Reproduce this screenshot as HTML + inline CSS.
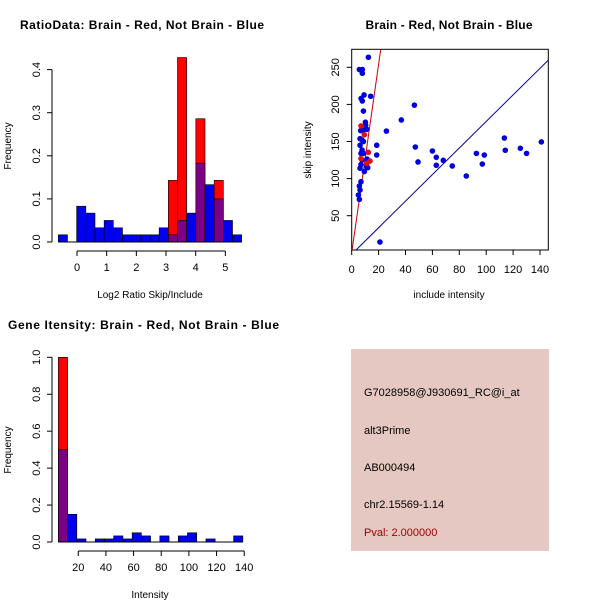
<!DOCTYPE html>
<html><head><meta charset="utf-8"><style>
body{margin:0;background:#fff}
svg{display:block;font-family:"Liberation Sans",sans-serif}
</style></head><body>
<svg id="s" width="600" height="600" xmlns="http://www.w3.org/2000/svg">
<rect width="600" height="600" fill="#fff"/>
<g>
<rect x="351" y="349" width="198" height="202" fill="#e6c8c2"/>
<text x="364" y="396" font-size="11" fill="#000">G7028958@J930691_RC@i_at</text>
<text x="364" y="434" font-size="11" fill="#000">alt3Prime</text>
<text x="364" y="471" font-size="11" fill="#000">AB000494</text>
<text x="364" y="508" font-size="11" fill="#000">chr2.15569-1.14</text>
<text x="364" y="536" font-size="11" fill="#a00000">Pval: 2.000000</text>
</g>
</svg>
<script>
// ---- chart 1 data: ratio histogram ----
const ratioBinStart = -0.63, ratioBinWidth = 0.309;
const ratioBlue = [0.0167,0,0.083,0.067,0.033,0.05,0.033,0.0167,0.0167,0.0167,0.0167,0.033,0.0167,0.05,0.067,0.183,0.133,0.1,0.05,0.0167];
const ratioRed  = [0,0,0,0,0,0,0,0,0,0,0,0,0.143,0.428,0,0.286,0,0.143,0,0];
const ratioXTicks = [0,1,2,3,4,5];
const ratioYTicks = ["0.0","0.1","0.2","0.3","0.4"];
// ---- chart 2 data: scatter ----
const blueX = [12.4,5.7,7.9,7.9,9.2,14.1,7,7.9,8.7,10.2,10.4,6.7,8.7,11.2,6.2,7.7,8.7,6.2,7.7,6.9,8.7,18.6,18.6,25.8,36.9,46.6,47.3,49.3,60,62.9,62.9,68.1,74.8,85.2,92.7,98.6,97.1,113.5,114.2,125.4,130,141,21,6.9,6.2,9.4,11.2,5.7,6.2,6.9,5,5.7,7.7,11.9,11.4];
const blueY = [263.5,247,247,242,212.7,211,208,204.6,191,176,172,164.6,165.5,166.4,153.8,152,150,145,138.5,134,134,145,131.8,164,179,199,142.6,122.4,137.2,128.7,118,124.6,117,103.5,134,131.7,119.6,154.7,138.2,140.8,134,149.4,14.5,119,114,109.5,116,90,84.6,95.8,77.9,72,125,114.7,126.4];
const redX = [6.9,9.4,12.4,13.6,11.2,6.9];
const redY = [171,159,135.4,123.7,120.7,127];
const redSlope = 12.7, blueSlope = 1.79, blueIntercept = -2;
const scX = [0,20,40,60,80,100,120,140];
const scY = [50,100,150,200,250];
// ---- chart 3 data: intensity histogram ----
const intBinStart = 5.6, intBinWidth = 6.67;
const intBlue = [0.5,0.15,0.0167,0,0.0167,0.0167,0.033,0.0167,0.05,0.033,0,0.033,0,0.033,0.05,0,0.0167,0,0,0.033];
const intRed  = [1.0,0,0,0,0,0,0,0,0,0,0,0,0,0,0,0,0,0,0,0];
const intXTicks = [20,40,60,80,100,120,140];
const intYTicks = ["0.0","0.2","0.4","0.6","0.8","1.0"];

const S = document.getElementById('s');
const NS = 'http://www.w3.org/2000/svg';
function mk(tag, attrs, parent){const e=document.createElementNS(NS,tag);for(const k in attrs)e.setAttribute(k,attrs[k]);(parent||S).appendChild(e);return e;}
function txt(x,y,s,size,parent,extra){const t=mk('text',Object.assign({x:x,y:y,'font-size':size,'text-anchor':'middle',fill:'#000'},extra||{}),parent);t.textContent=s;return t;}

function hist(g, binStart, binW, blue, red, xs, ys){
  blue.forEach((b,i)=>{
    const x0=xs(binStart+i*binW), x1=xs(binStart+(i+1)*binW), r=red[i];
    if(r>0){const e=mk('rect',{x:x0,y:ys(r),width:x1-x0,height:ys(0)-ys(r),fill:'#ff0000',stroke:'#000','stroke-width':0.6},g);
       }
    if(b>0){const col=r>0?'#7b0086':'#0000ee';
      const e=mk('rect',{x:x0,y:ys(b),width:x1-x0,height:ys(0)-ys(b),fill:col,stroke:'#000','stroke-width':0.6},g);
       }
  });
}
function yAxis(g, x, ticks, ys, y0, y1){
  mk('line',{x1:x,y1:y0,x2:x,y2:y1,stroke:'#000'},g);
  ticks.forEach(t=>{const y=ys(parseFloat(t));mk('line',{x1:x-5,y1:y,x2:x,y2:y,stroke:'#000'},g);
    const l=txt(x-12,y,t,11,g,{transform:`rotate(-90 ${x-12} ${y})`});
     });
}
function xAxis(g, y, ticks, xs, x0, x1){
  mk('line',{x1:x0,y1:y,x2:x1,y2:y,stroke:'#000'},g);
  ticks.forEach(t=>{const x=xs(t);mk('line',{x1:x,y1:y,x2:x,y2:y+5,stroke:'#000'},g);
    const l=txt(x,y+20,String(t),11,g);
     });
}

// chart 1
{
  const g=mk('g',{});
   
  const xs=v=>77+v*29.67, ys=v=>242-v*431;
  hist(g,ratioBinStart,ratioBinWidth,ratioBlue,ratioRed,xs,ys);
  mk('line',{x1:xs(ratioBinStart),y1:242,x2:xs(ratioBinStart+ratioBlue.length*ratioBinWidth),y2:242,stroke:'#000'},g);
  yAxis(g,52,ratioYTicks,ys,ys(0),ys(0.4));
  xAxis(g,251,ratioXTicks,xs,xs(0),xs(5));
  const t=txt(142,29,'RatioData: Brain - Red, Not Brain - Blue',12,g,{'font-weight':'bold',textLength:244});
   
  const xl=txt(150,298,'Log2 Ratio Skip/Include',10,g);  
  const yl=txt(11,146,'Frequency',10,g,{transform:'rotate(-90 11 146)'});  
}
// chart 2
{
  const g=mk('g',{});
   
  const xs=v=>351.7+v*1.345, ys=v=>252.8-v*0.742;
  const cp=mk('clipPath',{id:'c2'},g); mk('rect',{x:352,y:49.5,width:196,height:200.5},cp);
  const pts=mk('g',{'clip-path':'url(#c2)'},g);
  const rl=mk('line',{x1:xs(0),y1:ys(0),x2:xs(300/redSlope),y2:ys(300),stroke:'#cc0000','stroke-width':1},pts);
   
  const bl=mk('line',{x1:xs(0),y1:ys(blueIntercept),x2:xs(160),y2:ys(blueIntercept+160*blueSlope),stroke:'#000099','stroke-width':1},pts);
   
  blueX.forEach((x,i)=>{const c=mk('circle',{cx:xs(x),cy:ys(blueY[i]),r:2.8,fill:'#0000dd'},pts);
     });
  redX.forEach((x,i)=>{const c=mk('circle',{cx:xs(x),cy:ys(redY[i]),r:2.8,fill:'#dd1111'},pts);
     });
  mk('rect',{x:351.7,y:49.3,width:196.6,height:200.7,fill:'none',stroke:'#000'},g);
  scY.forEach(t=>{const y=ys(t);mk('line',{x1:346.7,y1:y,x2:351.7,y2:y,stroke:'#000'},g);
    const l=txt(339,y,String(t),11,g,{transform:`rotate(-90 339 ${y})`});  });
  scX.forEach(t=>{const x=xs(t);mk('line',{x1:x,y1:250,x2:x,y2:255,stroke:'#000'},g);
    const l=txt(x,273,String(t),11,g);  });
  const t=txt(449,29,'Brain - Red, Not Brain - Blue',12,g,{'font-weight':'bold',textLength:167});
   
  const xl=txt(449,298,'include intensity',10,g);  
  const yl=txt(311,150,'skip intensity',10,g,{transform:'rotate(-90 311 150)'});  
}
// chart 3
{
  const g=mk('g',{});
   
  const xs=v=>50.6+v*1.383, ys=v=>542-v*184.7;
  hist(g,intBinStart,intBinWidth,intBlue,intRed,xs,ys);
  mk('line',{x1:xs(intBinStart),y1:542,x2:xs(intBinStart+intBlue.length*intBinWidth),y2:542,stroke:'#000'},g);
  yAxis(g,52,intYTicks,ys,ys(0),ys(1));
  xAxis(g,551,intXTicks,xs,xs(20),xs(140));
  const t=txt(8,329,'Gene Itensity: Brain - Red, Not Brain - Blue',12,g,{'font-weight':'bold','text-anchor':'start',textLength:271});
   
  const xl=txt(150,598,'Intensity',10,g);  
  const yl=txt(11,450,'Frequency',10,g,{transform:'rotate(-90 11 450)'});  
}
</script>
</body></html>
